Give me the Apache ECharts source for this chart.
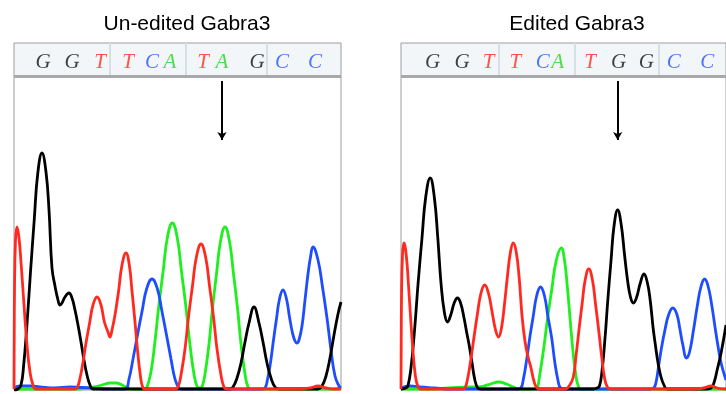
<!DOCTYPE html>
<html lang="en">
<head>
<meta charset="UTF-8">
<title>Gabra3 chromatograms</title>
<script src="https://cdn.jsdelivr.net/npm/echarts@6/dist/echarts.min.js"></script>
<style>
  html, body { margin: 0; padding: 0; background: #fff; }
  #main { width: 726px; height: 394px; }
</style>
</head>
<body>
<div id="main"></div>
<script type="text/javascript">
// titles
var leftTitle = 'Un-edited Gabra3';
var rightTitle = 'Edited Gabra3';

// base calls (letters and their trace positions)
var leftBases = ['G', 'G', 'T', 'T', 'C', 'A', 'T', 'A', 'G', 'C', 'C'];
var leftBasePos = [43, 72, 100, 128, 152, 170, 203, 222, 257, 282, 315];
var leftSeps = [110, 186, 267];
var leftArrowX = 222;

var rightBases = ['G', 'G', 'T', 'T', 'C', 'A', 'T', 'G', 'G', 'C', 'C'];
var rightBasePos = [433, 463, 490, 517, 545, 560, 593, 622, 650, 678, 712];
var rightSeps = [500, 577, 663];
var rightArrowX = 621;

// traces: [position, signal]
var leftG = [[14,0],[18,1],[21,5],[23.6,24],[27,66],[30.5,118],[34.3,171],[37.7,216],[42,237],[46,218],[49,180],[52,122],[55,104],[58,90],[60,85],[62,87],[65,93],[69,97],[72,92],[75,80],[78,65],[81,48],[84,30],[87,15],[90,5],[93,1],[230,1],[233,3],[237,12],[241,27],[245,48],[249,67],[254,83],[259,67],[263,48],[267,27],[271,12],[275,3],[279,1],[318,1],[322,4],[326,14],[330,32],[334,55],[338,76],[341,88]];
var leftA = [[14,1],[70,1],[78,1],[86,2],[94,3],[102,5],[110,7],[116,7],[122,5],[128,2],[134,1],[145,1],[147,3],[150.8,17],[154.8,47],[158.8,84],[163.3,120],[167.3,152],[172.3,167],[177.3,152],[181.3,120],[185.8,84],[189.8,47],[193.8,17],[197.3,3],[200,2],[202,3],[205,16],[209,46],[212.5,82],[216.6,117],[220.4,148],[225,163],[229.6,148],[233.4,117],[237.5,82],[241,46],[245,16],[248,3],[251,1],[335,1],[341,3]];
var leftT = [[14,1],[14.5,100],[15.5,150],[17,163],[19,152],[21,128],[24,85],[27,45],[30,18],[33,5],[36,1],[75,1],[77,2],[79.4,9],[82.7,26],[86,47],[89.6,67],[93,85],[97,93],[101,85],[104.4,68],[108,58],[110,53],[112,60],[115,75],[118.6,99],[122,125],[126,137],[129.3,125],[132,99],[135,68],[137.7,38],[140.4,14],[142.6,3],[145,1],[175,1],[178,3],[181,15],[185,41],[188.5,73],[192.6,105],[196.4,133],[201,146],[205.6,133],[209.4,105],[213.5,73],[217,41],[221,15],[224,3],[227,1],[300,1],[310,2],[318,4],[326,2],[334,1],[341,1]];
var leftC = [[14,2],[20,4],[30,4],[40,3],[55,2],[70,3],[90,2],[110,1],[125,1],[129,11],[133,31],[137.5,55],[142.3,80],[146.6,101],[152,111],[157.4,101],[161.7,80],[166.5,55],[171,31],[175,11],[179,2],[182,1],[262,1],[265,2],[267.4,10],[270.6,28],[273.5,50],[276.6,72],[279.5,91],[283,100],[286.5,91],[289.5,73],[292.5,57],[295,49],[297,47],[299,50],[302,64],[305,90],[308,116],[310.5,133],[313,143],[318,130],[322.5,103],[327,72],[331,40],[335,14],[339,4],[341,2]];

var rightG = [[401,1],[406,2],[408,4],[411,21],[414.7,59],[418.3,106],[422.4,153],[426.1,193],[430.7,212],[434.8,193],[438.3,153],[441.7,106],[445,78],[448.3,68],[451.5,75],[455,87],[458.3,92],[461.5,87],[465,72],[468,56],[470,46],[473,28],[476,10],[479,2],[482,1],[596,1],[600,2],[602.5,4],[605,18],[608,50],[611,90],[614.3,130],[617.3,164],[621,180],[624.5,166],[628,135],[631,110],[634,93],[637,87],[640,92],[644,107],[647.7,116],[651,108],[654,90],[657,62],[659.3,45],[662,27],[665,13],[668,5],[671,1],[712,1],[716,2],[719,8],[722,20],[726,37],[731,65]];
var rightA = [[401,1],[430,1],[450,2],[470,3],[477,3],[485,4],[492,6],[500,8],[508,6],[515,3],[520,1],[538,1],[540,4],[541.7,14],[545.7,40],[549.7,71],[554.3,102],[558.5,129],[563.7,142],[567,130],[570,102],[572.7,71],[575.5,40],[578.5,15],[581,4],[584,1],[731,1]];
var rightT = [[401,1],[401.5,90],[402.5,135],[404,147],[406.5,133],[408.6,105],[410.7,73],[413,41],[415.5,15],[418,4],[421,1],[464,1],[466,2],[468.4,10],[471.7,29],[475,52],[478.6,76],[482,96],[486,105],[490,96],[493.5,78],[497,60],[500,53],[503,62],[506,85],[509,113],[512,137],[515,147],[518,138],[521,112],[524,73],[527,48],[530,33],[533,22],[536,9],[539,2],[542,1],[568,1],[571,3],[575.7,12],[578.7,34],[581.7,60],[585,87],[588,110],[591.7,121],[595.4,110],[598.4,87],[601.7,60],[604.7,34],[607.7,12],[610.5,3],[614,1],[700,1],[708,2],[716,4],[722,2],[731,1]];
var rightC = [[401,2],[410,4],[420,3],[435,2],[450,1],[519,1],[522.7,2],[525.1,10],[528.4,29],[531.7,52],[535.3,74],[538.7,94],[542.7,103],[546.7,94],[550.1,74],[554,52],[557,29],[560.3,10],[563,2],[567,1],[654,1],[657.7,2],[660,8],[662,20],[665.3,41],[669,60],[673,76],[677,82],[681,76],[684,62],[687,46],[691,32],[694,38],[698,60],[702,85],[705.5,103],[709.3,111],[713,103],[716.5,85],[720,62],[722.7,45],[726,27],[731,10]];

var baseColors = { G: '#111111', A: '#22d622', T: '#ff2a1f', C: '#2255ff' };
var traceColors = { G: '#000000', A: '#1fef1f', T: '#ff2a1f', C: '#1e4dff' };

var myChart = echarts.init(document.getElementById('main'), null, { renderer: 'canvas' });

function baseSeries(bases, pos, seps, idx) {
    var data = [];
    for (var i = 0; i < bases.length; i++) {
        data.push({ value: [pos[i], 0.42, bases[i]], label: { color: baseColors[bases[i]] } });
    }
    var lines = [];
    for (var j = 0; j < seps.length; j++) {
        lines.push({ xAxis: seps[j], lineStyle: { color: '#d6dfe5', width: 2, type: 'solid' } });
    }
    lines.push({ yAxis: 0, lineStyle: { color: '#a8a8a8', width: 3, type: 'solid' } });
    return {
        type: 'scatter', xAxisIndex: idx, yAxisIndex: idx,
        symbolSize: 1, itemStyle: { color: 'rgba(0,0,0,0)' }, silent: true,
        data: data,
        label: {
            show: true, position: 'inside',
            formatter: function (p) { return p.value[2]; },
            fontFamily: 'Liberation Serif', fontStyle: 'italic', fontSize: 21
        },
        markLine: { silent: true, symbol: 'none', label: { show: false }, animation: false, data: lines }
    };
}

function trace(data, color, idx) {
    return {
        type: 'line', xAxisIndex: idx, yAxisIndex: idx,
        data: data, smooth: 0.45,
        symbol: 'none', silent: true,
        lineStyle: { color: color, width: 2.8 }
    };
}

function arrow(x, idx) {
    var s = trace([], '#000', idx);
    s.markLine = {
        silent: true, symbol: ['none', 'arrow'], symbolSize: [7, 8],
        label: { show: false }, animation: false,
        lineStyle: { color: '#000', width: 2, type: 'solid' },
        data: [[{ coord: [x, 309] }, { coord: [x, 250] }]]
    };
    return s;
}

myChart.setOption({
    animation: false,
    title: [
        { text: leftTitle, left: 182, top: 9, textAlign: 'center',
          textStyle: { fontFamily: 'Liberation Sans', fontSize: 21, fontWeight: 'normal', color: '#000' } },
        { text: rightTitle, left: 572, top: 9, textAlign: 'center',
          textStyle: { fontFamily: 'Liberation Sans', fontSize: 21, fontWeight: 'normal', color: '#000' } }
    ],
    grid: [
        { left: 14, top: 43, width: 327, height: 33, show: true, backgroundColor: '#f3f6f8', borderColor: '#9c9c9c', borderWidth: 1 },
        { left: 14, top: 76, width: 327, height: 314, show: true, backgroundColor: '#fff', borderColor: '#9c9c9c', borderWidth: 1 },
        { left: 401, top: 43, width: 330, height: 33, show: true, backgroundColor: '#f3f6f8', borderColor: '#9c9c9c', borderWidth: 1 },
        { left: 401, top: 76, width: 330, height: 314, show: true, backgroundColor: '#fff', borderColor: '#9c9c9c', borderWidth: 1 }
    ],
    xAxis: [
        { type: 'value', gridIndex: 0, min: 14, max: 341, show: false },
        { type: 'value', gridIndex: 1, min: 14, max: 341, show: false },
        { type: 'value', gridIndex: 2, min: 401, max: 731, show: false },
        { type: 'value', gridIndex: 3, min: 401, max: 731, show: false }
    ],
    yAxis: [
        { type: 'value', gridIndex: 0, min: 0, max: 1, show: false },
        { type: 'value', gridIndex: 1, min: 0, max: 314, show: false },
        { type: 'value', gridIndex: 2, min: 0, max: 1, show: false },
        { type: 'value', gridIndex: 3, min: 0, max: 314, show: false }
    ],
    series: [
        baseSeries(leftBases, leftBasePos, leftSeps, 0),
        trace(leftA, traceColors.A, 1),
        trace(leftC, traceColors.C, 1),
        trace(leftG, traceColors.G, 1),
        trace(leftT, traceColors.T, 1),
        arrow(leftArrowX, 1),
        baseSeries(rightBases, rightBasePos, rightSeps, 2),
        trace(rightA, traceColors.A, 3),
        trace(rightC, traceColors.C, 3),
        trace(rightG, traceColors.G, 3),
        trace(rightT, traceColors.T, 3),
        arrow(rightArrowX, 3)
    ]
});
</script>
</body>
</html>
